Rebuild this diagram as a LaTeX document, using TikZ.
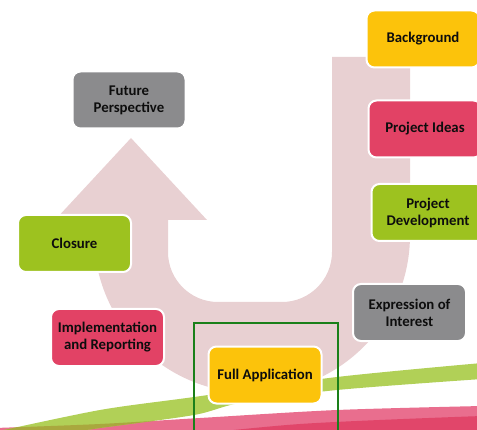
\documentclass[tikz,border=0pt]{standalone}
\usepackage{fontspec}
\setmainfont{Carlito}
\definecolor{uturn}{HTML}{E8D0D2}
\definecolor{boxyellow}{HTML}{FCC30B}
\definecolor{boxred}{HTML}{E24265}
\definecolor{boxgreen}{HTML}{9DC21F}
\definecolor{boxgray}{HTML}{8B8B8D}
\definecolor{swgreen}{HTML}{B1D057}
\definecolor{swpink}{HTML}{E96E8E}
\definecolor{swdark}{HTML}{E1466A}
\definecolor{swolive}{HTML}{A9A83E}
\definecolor{framegreen}{HTML}{1A801A}
\begin{document}
\begin{tikzpicture}[x=1pt,y=1pt,
  stage/.style={rounded corners=8pt, draw=white, line width=2pt,
    minimum width=113pt, minimum height=57pt, inner sep=2pt, align=center,
    font=\fontsize{14.8}{17}\selectfont\bfseries, text=black!95}]
  \useasboundingbox (0,0) rectangle (477,429);
  \clip (0,0) rectangle (477,429);

  \fill[uturn] (410,372) -- (410,194) arc (0:-180:158) -- (94,209) -- (55,209)
   -- (131,291) -- (207,209) -- (168,209) -- (168,177) arc (180:270:50)
   -- (282,127) arc (270:360:50) -- (332,372) -- cycle;

  \fill[swpink] (-5,-10) -- plot[smooth] coordinates {(-5,1) (100,5) (200,11) (337,19) (482,23)} -- (482,-10) -- cycle;
  \fill[swdark] plot[smooth] coordinates {(150,-10) (300,5) (482,13)} -- (482,-10) -- cycle;
  \fill[swgreen] plot[smooth] coordinates {(-5,-3) (100,19) (194,32) (337,52) (482,66)}
   -- plot[smooth] coordinates {(482,50) (337,39) (240,26) (194,14) (100,1) (60,-5)} -- cycle;
  \begin{scope}
    \clip plot[smooth] coordinates {(-5,-3) (100,19) (194,32) (337,52) (482,66)}
     -- plot[smooth] coordinates {(482,50) (337,39) (240,26) (194,14) (100,1) (60,-5)} -- cycle;
    \fill[swolive] (-5,-10) -- plot[smooth] coordinates {(-5,1) (100,5) (200,11) (337,19) (482,23)} -- (482,-10) -- cycle;
  \end{scope}

  \draw[framegreen, line width=2.5pt] (194,-10) -- (194,106) -- (338,106) -- (338,-10);

  \node[stage, fill=boxyellow] (bg) at (423,390) {Background};
  \node[stage, fill=boxred] (ideas) at (425,300) {Project Ideas};
  \node[stage, fill=boxgreen] (devel) at (428,216.5) {Project\\Development};
  \node[stage, fill=boxgray] (eoi) at (409.5,116.5) {Expression of\\Interest};
  \node[stage, fill=boxyellow] (fullapp) at (265,54) {Full Application};
  \node[stage, fill=boxred] (impl) at (107.5,91.5) {Implementation\\and Reporting};
  \node[stage, fill=boxgreen] (closure) at (74.5,185.5) {Closure};
  \node[stage, fill=boxgray] (future) at (129,329) {Future\\Perspective};
\end{tikzpicture}
\end{document}
